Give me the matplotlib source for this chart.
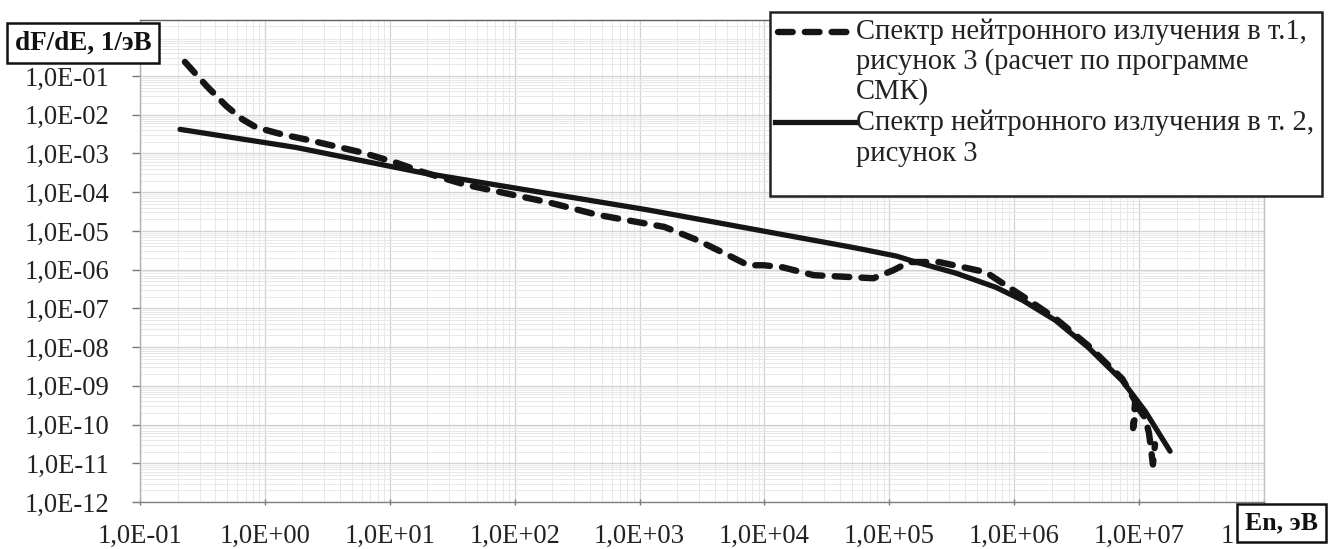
import math
import matplotlib
matplotlib.use("Agg")
import matplotlib.pyplot as plt
from matplotlib.ticker import FixedLocator, FuncFormatter, LogLocator, NullFormatter
from matplotlib.patches import Rectangle
from matplotlib.lines import Line2D

# ---- data ----
dashed_E = [0.229, 0.342, 0.493, 0.662, 0.855, 1.38, 2.14, 5.99, 11.2, 18, 40, 190, 462,
            1580, 2900, 5300, 7400, 9900, 14000, 24800, 74600, 1.08e5, 1.44e5, 2.5e5,
            3.89e5, 5.93e5, 8.55e5, 1.24e6, 2.14e6, 3.92e6, 7.33e6, 9.3e6, 8.95e6, 9.6e6,
            1.12e7, 1.2e7, 1.29e7, 1.34e7]
dashed_F = [0.231, 0.055, 0.0166, 7.6e-3, 4.7e-3, 3.1e-3, 2.3e-3, 1.06e-3, 5.8e-4, 3.4e-4,
            1.57e-4, 5.4e-5, 2.6e-5, 1.27e-5, 5.8e-6, 2.24e-6, 1.3e-6, 1.3e-6, 1.15e-6,
            7.2e-7, 6.0e-7, 9.7e-7, 1.57e-6, 1.57e-6, 1.16e-6, 8.6e-7, 3.95e-7, 1.82e-7,
            5.5e-8, 1.09e-8, 1.52e-9, 4.07e-10, 8.1e-11, 3.0e-10, 1.47e-10, 6e-11, 9.3e-12,
            3.1e-11]

solid_E = [0.209, 1.78, 18, 1160, 5.46e4, 1.14e5, 1.55e5, 3.42e5, 7.13e5, 1.17e6, 2.14e6,
           3.93e6, 7.33e6, 1.12e7, 1.77e7]
solid_F = [4.2e-3, 1.43e-3, 3.2e-4, 3.5e-5, 3.6e-6, 2.24e-6, 1.65e-6, 8.1e-7, 3.5e-7,
           1.61e-7, 4.9e-8, 9.7e-9, 1.35e-9, 2.2e-10, 2.05e-11]

x_exponents = list(range(-1, 9))
y_exponents = list(range(-12, 0))
last_x_label = "1"   # the rest of "1,0E+08" is hidden behind the axis-title box

legend_dashed = ["Спектр нейтронного излучения в т.1,",
                 "рисунок 3 (расчет по программе",
                 "СМК)"]
legend_solid = ["Спектр нейтронного излучения в т. 2,",
                "рисунок 3"]
ylabel_text = "dF/dE, 1/эВ"
xlabel_text = "En, эВ"

# ---- figure ----
plt.rcParams['font.family'] = ['Liberation Serif', 'DejaVu Serif']
W, H = 1328, 549
fig = plt.figure(figsize=(W / 100, H / 100), dpi=100)
ax = fig.add_axes([140 / W, 1 - 502 / H, (1264 - 140) / W, (502 - 20) / H])

ax.set_xscale('log')
ax.set_yscale('log')
ax.set_xlim(1e-1, 1e8)
ax.set_ylim(1e-12, 2.8)

ax.plot(solid_E, solid_F, color='#151515', lw=3.8, solid_capstyle='round',
        solid_joinstyle='round', zorder=3)
ax.plot(dashed_E, dashed_F, color='#151515', lw=4.6, dashes=(2.3, 1.9),
        dash_capstyle='round', dash_joinstyle='round', zorder=4)


def fmt(v, p):
    e = int(round(math.log10(v)))
    if e == x_exponents[-1] and v > 1:
        return ""
    return "1,0E{:+03d}".format(e)


ax.xaxis.set_major_locator(FixedLocator([10.0 ** e for e in x_exponents]))
ax.yaxis.set_major_locator(FixedLocator([10.0 ** e for e in y_exponents]))
ax.xaxis.set_major_formatter(FuncFormatter(fmt))
ax.yaxis.set_major_formatter(FuncFormatter(fmt))
ax.xaxis.set_minor_locator(LogLocator(base=10, subs=range(2, 10), numticks=100))
ax.yaxis.set_minor_locator(LogLocator(base=10, subs=range(2, 10), numticks=100))
ax.xaxis.set_minor_formatter(NullFormatter())
ax.yaxis.set_minor_formatter(NullFormatter())

TICK_FS = 19.2
XPAD = 13.5
ax.tick_params(axis='both', which='major', labelsize=TICK_FS, colors='#222222')
ax.tick_params(axis='y', which='major', length=6, width=1, pad=16, color='#777777')
ax.tick_params(axis='x', which='major', length=5, width=1, pad=XPAD, direction='inout',
               color='#777777')
ax.tick_params(axis='both', which='minor', length=0)

# partially hidden last x tick label
ax.annotate(last_x_label, xy=(10.0 ** x_exponents[-1], 0), xycoords=('data', 'axes fraction'),
            xytext=(-30, -(XPAD + 2.5) * 100 / 72), textcoords='offset pixels',
            ha='right', va='top', fontsize=TICK_FS, color='#222222')

ax.grid(True, which='major', color='#d2d2d2', lw=0.9)
ax.grid(True, which='minor', color='#e8e8e8', lw=0.7)
ax.set_axisbelow(True)

ax.spines['left'].set_color('#b0b0b0')
ax.spines['right'].set_color('#c0c0c0')
ax.spines['bottom'].set_color('#808080')
ax.spines['top'].set_color('#606060')
for s in ax.spines.values():
    s.set_linewidth(1.0)

# axis label boxes
fig.text(15 / W, 1 - 43 / H, ylabel_text, fontsize=19.5, fontweight='bold',
         ha='left', va='center', color='#111111', zorder=10,
         bbox=dict(boxstyle='square,pad=0.28', fc='white', ec='#111111', lw=1.8))
fig.text(1245 / W, 1 - 523 / H, xlabel_text, fontsize=18.5, fontweight='bold',
         ha='left', va='center', color='#111111', zorder=10,
         bbox=dict(boxstyle='square,pad=0.3', fc='white', ec='#111111', lw=1.8))

# legend box (drawn in figure coordinates)
LEG_FS = 20.6
fig.add_artist(Rectangle((770 / W, 1 - 196 / H), (1322 - 770) / W, (196 - 12) / H,
                         transform=fig.transFigure, fc='white', ec='#222222', lw=1.8,
                         zorder=8))
fig.add_artist(Line2D([778 / W, 848 / W], [1 - 32 / H, 1 - 32 / H], transform=fig.transFigure,
                      color='#151515', lw=4.6, dashes=(2.3, 1.9), dash_capstyle='round',
                      zorder=9))
fig.add_artist(Line2D([775 / W, 855 / W], [1 - 122 / H, 1 - 122 / H], transform=fig.transFigure,
                      color='#151515', lw=3.8, zorder=9))
for t, yy in zip(legend_dashed, [32, 62, 92]):
    fig.text(856 / W, 1 - yy / H, t, fontsize=LEG_FS, ha='left', va='center',
             color='#222222', zorder=10)
for t, yy in zip(legend_solid, [123, 154]):
    fig.text(856 / W, 1 - yy / H, t, fontsize=LEG_FS, ha='left', va='center',
             color='#222222', zorder=10)

fig.savefig("out.png", dpi=100, facecolor='white')
